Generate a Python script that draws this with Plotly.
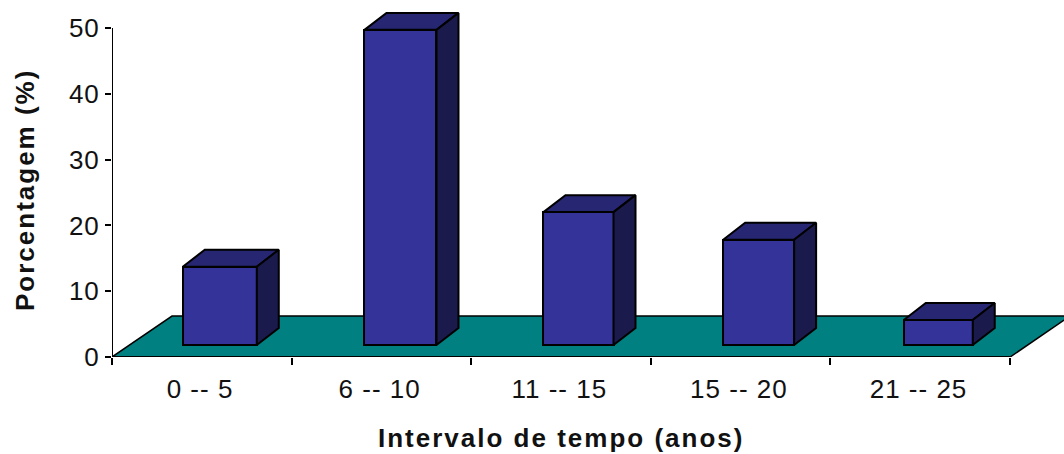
import plotly.graph_objects as go

categories = ["0 -- 5", "6 -- 10", "11 -- 15", "15 -- 20", "21 -- 25"]
values = [11.9, 47.9, 20.2, 16.0, 3.8]
y_ticks = [0, 10, 20, 30, 40, 50]

FRONT = "#333399"
TOP = "#262673"
SIDE = "#1a1a4d"
FLOOR = "#008080"
INK = "#000000"

# Depth geometry of the pseudo-3D projection, in axis units
BAR_W = [0.412, 0.401, 0.39, 0.395, 0.384]
BAR_SHIFT = [0.1, 0.106, 0.097, 0.1, 0.1]
BAR_BASE = 1.82
DX = 0.1225
DY = 2.58
FLOOR_DX = 0.334
FLOOR_DY = 6.23
N = len(categories)
centers = [i + 0.5 + s for i, s in enumerate(BAR_SHIFT)]

fig = go.Figure()

fig.add_trace(go.Bar(
    x=centers, y=values, base=[BAR_BASE] * N, width=BAR_W,
    marker=dict(color=FRONT, line=dict(color=INK, width=2)),
    showlegend=False, hoverinfo="skip",
))

for c, v, w in zip(centers, values, BAR_W):
    l, r = c - w / 2, c + w / 2
    b, t = BAR_BASE, BAR_BASE + v
    fig.add_trace(go.Scatter(
        x=[l, r, r + DX, l + DX, l], y=[t, t, t + DY, t + DY, t],
        mode="lines", fill="toself", fillcolor=TOP,
        line=dict(color=INK, width=2), showlegend=False, hoverinfo="skip",
    ))
    fig.add_trace(go.Scatter(
        x=[r, r + DX, r + DX, r, r], y=[b, b + DY, t + DY, t, b],
        mode="lines", fill="toself", fillcolor=SIDE,
        line=dict(color=INK, width=2), showlegend=False, hoverinfo="skip",
    ))

# Axis lines stop at the last tick, the floor runs on past them
fig.add_trace(go.Scatter(x=[0, 0], y=[y_ticks[0], y_ticks[-1]], mode="lines",
                         line=dict(color=INK, width=2), showlegend=False, hoverinfo="skip", cliponaxis=False))
fig.add_trace(go.Scatter(x=[0, N], y=[0, 0], mode="lines",
                         line=dict(color=INK, width=2), showlegend=False, hoverinfo="skip", cliponaxis=False))

floor_path = (f"M 0 0 L {FLOOR_DX} {FLOOR_DY} L {N + FLOOR_DX} {FLOOR_DY} L {N} 0 Z")
fig.add_shape(type="path", path=floor_path, xref="x", yref="y", layer="below",
              fillcolor=FLOOR, line=dict(color=INK, width=1.5))

font = dict(family="Liberation Sans, Arial, sans-serif", size=26, color="#111111")

fig.update_layout(
    width=1064, height=454,
    margin=dict(l=112, r=0, t=5, b=97),
    paper_bgcolor="white", plot_bgcolor="white",
    showlegend=False, bargap=0,
    font=font,
    xaxis=dict(
        range=[0, 5.30], showgrid=False, zeroline=False, showline=False,
        tickmode="array", tickvals=[i + 0.49 for i in range(N)], ticktext=categories,
        ticks="", tickfont=font, ticklabelstandoff=14,
        minor=dict(tickmode="array", tickvals=list(range(N + 1)), ticks="outside",
                   ticklen=7, tickwidth=2, tickcolor=INK, showgrid=False),
    ),
    yaxis=dict(
        range=[0, 53.5], showgrid=False, zeroline=False, showline=False,
        tickmode="array", tickvals=y_ticks, ticks="outside", ticklen=6, tickwidth=2,
        tickcolor=INK, tickfont=font,
    ),
    annotations=[
        dict(text="<b>Intervalo de tempo (anos)</b>", xref="paper", yref="paper",
             x=(561 - 112) / 952, y=-(438 - 357) / 352, showarrow=False,
             xanchor="center", yanchor="middle", font=font),
        dict(text="<b>Porcentagem (%)</b>", xref="paper", yref="paper",
             x=-(112 - 25) / 952, y=(357 - 190) / 352, showarrow=False, textangle=-90,
             xanchor="center", yanchor="middle", font=font),
    ],
)

css = (
    "var s=document.createElement('style');"
    "s.textContent='.xtick text,.ytick text{letter-spacing:1px}.annotation-text{letter-spacing:2px}';"
    "document.head.appendChild(s);"
    "document.body.style.margin='0';document.body.style.overflow='hidden';"
)
fig.write_html("out.html", post_script=css, config={"displayModeBar": False})
